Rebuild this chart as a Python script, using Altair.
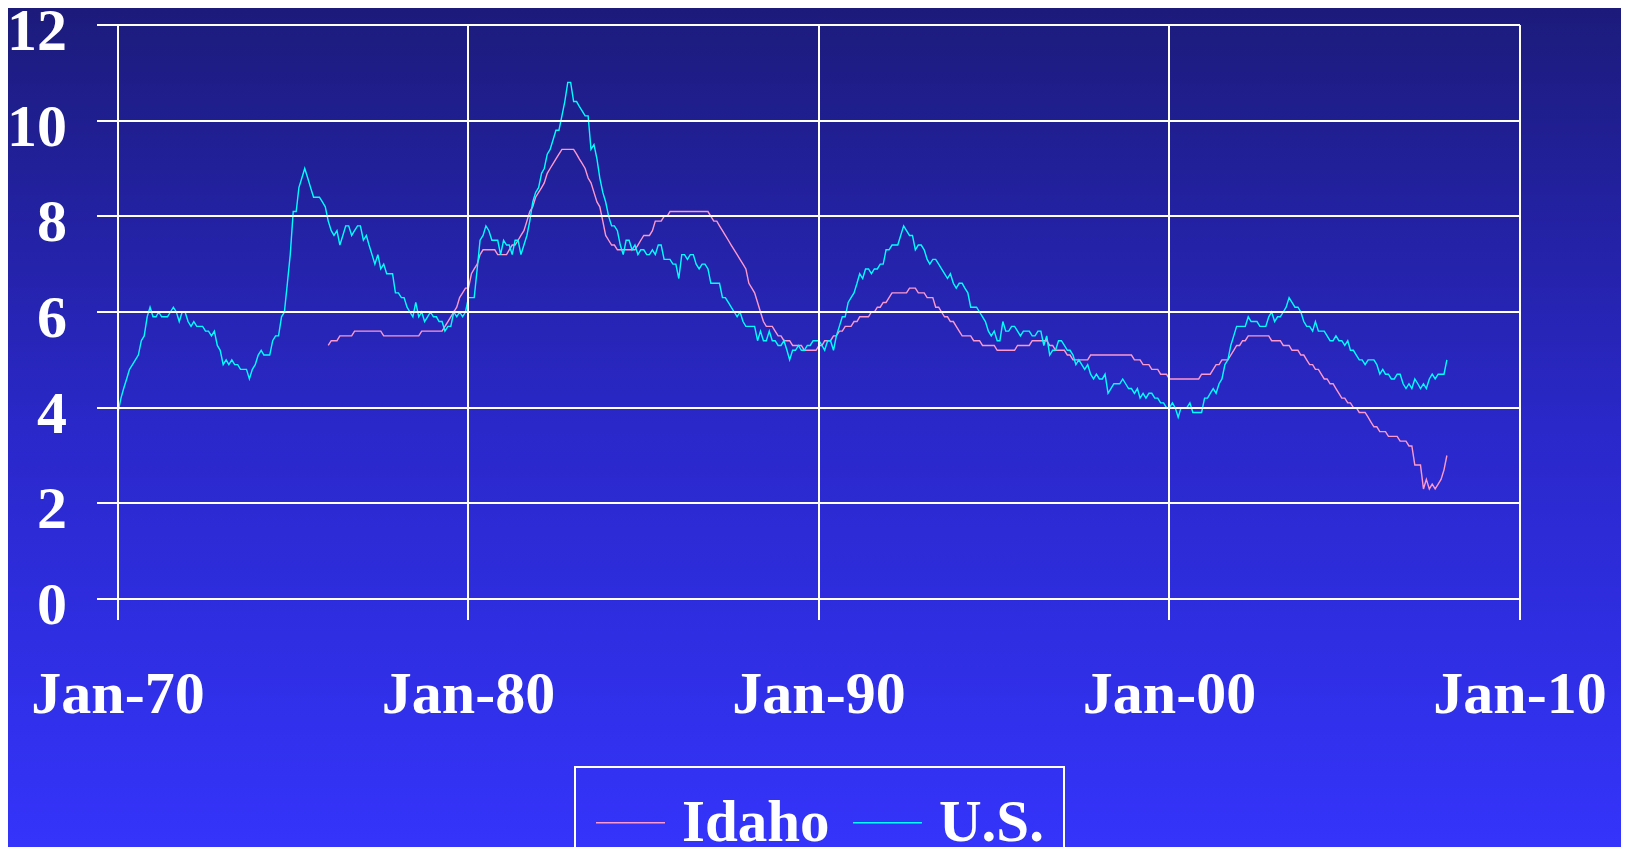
import altair as alt
import pandas as pd

# ---------------- data ----------------
us_start_year = 1970
us_rate = [
    3.9, 4.2, 4.4, 4.6, 4.8, 4.9, 5.0, 5.1, 5.4, 5.5, 5.9, 6.1,   # 1970
    5.9, 5.9, 6.0, 5.9, 5.9, 5.9, 6.0, 6.1, 6.0, 5.8, 6.0, 6.0,   # 1971
    5.8, 5.7, 5.8, 5.7, 5.7, 5.7, 5.6, 5.6, 5.5, 5.6, 5.3, 5.2,   # 1972
    4.9, 5.0, 4.9, 5.0, 4.9, 4.9, 4.8, 4.8, 4.8, 4.6, 4.8, 4.9,   # 1973
    5.1, 5.2, 5.1, 5.1, 5.1, 5.4, 5.5, 5.5, 5.9, 6.0, 6.6, 7.2,   # 1974
    8.1, 8.1, 8.6, 8.8, 9.0, 8.8, 8.6, 8.4, 8.4, 8.4, 8.3, 8.2,   # 1975
    7.9, 7.7, 7.6, 7.7, 7.4, 7.6, 7.8, 7.8, 7.6, 7.7, 7.8, 7.8,   # 1976
    7.5, 7.6, 7.4, 7.2, 7.0, 7.2, 6.9, 7.0, 6.8, 6.8, 6.8, 6.4,   # 1977
    6.4, 6.3, 6.3, 6.1, 6.0, 5.9, 6.2, 5.9, 6.0, 5.8, 5.9, 6.0,   # 1978
    5.9, 5.9, 5.8, 5.8, 5.6, 5.7, 5.7, 6.0, 5.9, 6.0, 5.9, 6.0,   # 1979
    6.3, 6.3, 6.3, 6.9, 7.5, 7.6, 7.8, 7.7, 7.5, 7.5, 7.5, 7.2,   # 1980
    7.5, 7.4, 7.4, 7.2, 7.5, 7.5, 7.2, 7.4, 7.6, 7.9, 8.3, 8.5,   # 1981
    8.6, 8.9, 9.0, 9.3, 9.4, 9.6, 9.8, 9.8, 10.1, 10.4, 10.8, 10.8,  # 1982
    10.4, 10.4, 10.3, 10.2, 10.1, 10.1, 9.4, 9.5, 9.2, 8.8, 8.5, 8.3,  # 1983
    8.0, 7.8, 7.8, 7.7, 7.4, 7.2, 7.5, 7.5, 7.3, 7.4, 7.2, 7.3,   # 1984
    7.3, 7.2, 7.2, 7.3, 7.2, 7.4, 7.4, 7.1, 7.1, 7.1, 7.0, 7.0,   # 1985
    6.7, 7.2, 7.2, 7.1, 7.2, 7.2, 7.0, 6.9, 7.0, 7.0, 6.9, 6.6,   # 1986
    6.6, 6.6, 6.6, 6.3, 6.3, 6.2, 6.1, 6.0, 5.9, 6.0, 5.8, 5.7,   # 1987
    5.7, 5.7, 5.7, 5.4, 5.6, 5.4, 5.4, 5.6, 5.4, 5.4, 5.3, 5.3,   # 1988
    5.4, 5.2, 5.0, 5.2, 5.2, 5.3, 5.2, 5.2, 5.3, 5.3, 5.4, 5.4,   # 1989
    5.4, 5.3, 5.2, 5.4, 5.4, 5.2, 5.5, 5.7, 5.9, 5.9, 6.2, 6.3,   # 1990
    6.4, 6.6, 6.8, 6.7, 6.9, 6.9, 6.8, 6.9, 6.9, 7.0, 7.0, 7.3,   # 1991
    7.3, 7.4, 7.4, 7.4, 7.6, 7.8, 7.7, 7.6, 7.6, 7.3, 7.4, 7.4,   # 1992
    7.3, 7.1, 7.0, 7.1, 7.1, 7.0, 6.9, 6.8, 6.7, 6.8, 6.6, 6.5,   # 1993
    6.6, 6.6, 6.5, 6.4, 6.1, 6.1, 6.1, 6.0, 5.9, 5.8, 5.6, 5.5,   # 1994
    5.6, 5.4, 5.4, 5.8, 5.6, 5.6, 5.7, 5.7, 5.6, 5.5, 5.6, 5.6,   # 1995
    5.6, 5.5, 5.5, 5.6, 5.6, 5.3, 5.5, 5.1, 5.2, 5.2, 5.4, 5.4,   # 1996
    5.3, 5.2, 5.2, 5.1, 4.9, 5.0, 4.9, 4.8, 4.9, 4.7, 4.6, 4.7,   # 1997
    4.6, 4.6, 4.7, 4.3, 4.4, 4.5, 4.5, 4.5, 4.6, 4.5, 4.4, 4.4,   # 1998
    4.3, 4.4, 4.2, 4.3, 4.2, 4.3, 4.3, 4.2, 4.2, 4.1, 4.1, 4.0,   # 1999
    4.0, 4.1, 4.0, 3.8, 4.0, 4.0, 4.0, 4.1, 3.9, 3.9, 3.9, 3.9,   # 2000
    4.2, 4.2, 4.3, 4.4, 4.3, 4.5, 4.6, 4.9, 5.0, 5.3, 5.5, 5.7,   # 2001
    5.7, 5.7, 5.7, 5.9, 5.8, 5.8, 5.8, 5.7, 5.7, 5.7, 5.9, 6.0,   # 2002
    5.8, 5.9, 5.9, 6.0, 6.1, 6.3, 6.2, 6.1, 6.1, 6.0, 5.8, 5.7,   # 2003
    5.7, 5.6, 5.8, 5.6, 5.6, 5.6, 5.5, 5.4, 5.4, 5.5, 5.4, 5.4,   # 2004
    5.3, 5.4, 5.2, 5.2, 5.1, 5.0, 5.0, 4.9, 5.0, 5.0, 5.0, 4.9,   # 2005
    4.7, 4.8, 4.7, 4.7, 4.6, 4.6, 4.7, 4.7, 4.5, 4.4, 4.5, 4.4,   # 2006
    4.6, 4.5, 4.4, 4.5, 4.4, 4.6, 4.7, 4.6, 4.7, 4.7, 4.7, 5.0,   # 2007
]

idaho_start_year = 1976
idaho_rate = [
    5.3, 5.4, 5.4, 5.4, 5.5, 5.5, 5.5, 5.5, 5.5, 5.6, 5.6, 5.6,   # 1976
    5.6, 5.6, 5.6, 5.6, 5.6, 5.6, 5.6, 5.5, 5.5, 5.5, 5.5, 5.5,   # 1977
    5.5, 5.5, 5.5, 5.5, 5.5, 5.5, 5.5, 5.5, 5.6, 5.6, 5.6, 5.6,   # 1978
    5.6, 5.6, 5.6, 5.6, 5.7, 5.8, 5.9, 6.0, 6.1, 6.3, 6.4, 6.5,   # 1979
    6.5, 6.8, 6.9, 7.0, 7.2, 7.3, 7.3, 7.3, 7.3, 7.3, 7.2, 7.2,   # 1980
    7.2, 7.2, 7.3, 7.4, 7.4, 7.5, 7.6, 7.7, 7.9, 8.1, 8.2, 8.4,   # 1981
    8.5, 8.6, 8.7, 8.9, 9.0, 9.1, 9.2, 9.3, 9.4, 9.4, 9.4, 9.4,   # 1982
    9.4, 9.3, 9.2, 9.1, 9.0, 8.8, 8.7, 8.5, 8.3, 8.2, 7.9, 7.6,   # 1983
    7.5, 7.4, 7.4, 7.3, 7.3, 7.3, 7.3, 7.3, 7.3, 7.3, 7.4, 7.5,   # 1984
    7.6, 7.6, 7.6, 7.7, 7.9, 7.9, 7.9, 8.0, 8.0, 8.1, 8.1, 8.1,   # 1985
    8.1, 8.1, 8.1, 8.1, 8.1, 8.1, 8.1, 8.1, 8.1, 8.1, 8.1, 8.0,   # 1986
    7.9, 7.9, 7.8, 7.7, 7.6, 7.5, 7.4, 7.3, 7.2, 7.1, 7.0, 6.9,   # 1987
    6.6, 6.5, 6.4, 6.2, 6.0, 5.8, 5.7, 5.7, 5.7, 5.6, 5.5, 5.5,   # 1988
    5.4, 5.4, 5.4, 5.3, 5.3, 5.3, 5.3, 5.2, 5.2, 5.2, 5.2, 5.2,   # 1989
    5.3, 5.3, 5.4, 5.4, 5.4, 5.5, 5.5, 5.6, 5.6, 5.7, 5.7, 5.7,   # 1990
    5.8, 5.8, 5.9, 5.9, 5.9, 5.9, 6.0, 6.0, 6.1, 6.1, 6.2, 6.2,   # 1991
    6.3, 6.4, 6.4, 6.4, 6.4, 6.4, 6.4, 6.5, 6.5, 6.5, 6.4, 6.4,   # 1992
    6.4, 6.3, 6.3, 6.3, 6.1, 6.1, 6.0, 5.9, 5.9, 5.8, 5.8, 5.7,   # 1993
    5.6, 5.5, 5.5, 5.5, 5.5, 5.4, 5.4, 5.4, 5.3, 5.3, 5.3, 5.3,   # 1994
    5.3, 5.2, 5.2, 5.2, 5.2, 5.2, 5.2, 5.2, 5.3, 5.3, 5.3, 5.3,   # 1995
    5.3, 5.4, 5.4, 5.4, 5.4, 5.4, 5.4, 5.3, 5.3, 5.2, 5.2, 5.2,   # 1996
    5.2, 5.1, 5.1, 5.0, 5.0, 5.0, 5.0, 5.0, 5.0, 5.1, 5.1, 5.1,   # 1997
    5.1, 5.1, 5.1, 5.1, 5.1, 5.1, 5.1, 5.1, 5.1, 5.1, 5.1, 5.1,   # 1998
    5.0, 5.0, 5.0, 4.9, 4.9, 4.9, 4.8, 4.8, 4.8, 4.7, 4.7, 4.7,   # 1999
    4.6, 4.6, 4.6, 4.6, 4.6, 4.6, 4.6, 4.6, 4.6, 4.6, 4.6, 4.7,   # 2000
    4.7, 4.7, 4.7, 4.8, 4.9, 4.9, 5.0, 5.0, 5.0, 5.1, 5.2, 5.3,   # 2001
    5.3, 5.4, 5.4, 5.5, 5.5, 5.5, 5.5, 5.5, 5.5, 5.5, 5.5, 5.4,   # 2002
    5.4, 5.4, 5.4, 5.3, 5.3, 5.3, 5.2, 5.2, 5.2, 5.1, 5.1, 5.0,   # 2003
    4.9, 4.9, 4.8, 4.8, 4.7, 4.6, 4.6, 4.5, 4.5, 4.4, 4.3, 4.2,   # 2004
    4.2, 4.1, 4.1, 4.0, 4.0, 3.9, 3.9, 3.9, 3.8, 3.7, 3.6, 3.6,   # 2005
    3.5, 3.5, 3.5, 3.4, 3.4, 3.4, 3.4, 3.3, 3.3, 3.3, 3.2, 3.2,   # 2006
    2.8, 2.8, 2.8, 2.3, 2.5, 2.3, 2.4, 2.3, 2.4, 2.5, 2.7, 3.0,   # 2007
]

series_names = ["Idaho", "U.S."]
series_colors = ["#ff99cc", "#00ffff"]
x_tick_years = [1970, 1980, 1990, 2000, 2010]
y_tick_values = [0, 2, 4, 6, 8, 10, 12]


def monthly(start_year, values, name):
    rows = []
    for i, v in enumerate(values):
        y = start_year + i // 12
        m = i % 12 + 1
        rows.append({"date": f"{y}-{m:02d}-01T00:00:00", "rate": v, "series": name})
    return rows


df = pd.DataFrame(monthly(idaho_start_year, idaho_rate, "Idaho")
                  + monthly(us_start_year, us_rate, "U.S."))

W, H = 1402, 574
PAD = {"left": 110, "top": 17, "right": 101, "bottom": 248}
FONT = "Liberation Serif"

background = alt.Chart(pd.DataFrame({"k": [0]})).mark_rect(
    color=alt.Gradient(
        gradient="linear",
        stops=[
            alt.GradientStop(color="#1c1b7b", offset=0),
            alt.GradientStop(color="#2a28c9", offset=0.5),
            alt.GradientStop(color="#3434fb", offset=1),
        ],
        x1=0, x2=0, y1=0, y2=1,
    )
).encode(
    x=alt.value(-PAD["left"]), x2=alt.value(W + PAD["right"]),
    y=alt.value(-PAD["top"]), y2=alt.value(H + PAD["bottom"]),
)

lines = alt.Chart(df).mark_line(strokeWidth=1.4).encode(
    x=alt.X(
        "date:T",
        scale=alt.Scale(domain=[alt.DateTime(year=1970, month=1, date=1),
                                alt.DateTime(year=2010, month=1, date=1)]),
        axis=alt.Axis(
            values=[alt.DateTime(year=y, month=1, date=1) for y in x_tick_years],
            format="%b-%y", title=None, domain=False, translate=0,
            grid=True, gridColor="white", gridWidth=2, gridOpacity=1,
            ticks=True, tickColor="white", tickWidth=2, tickSize=21,
            labelFont=FONT, labelFontSize=60, labelFontWeight="bold",
            labelColor="white", labelPadding=46, labelFlush=False,
            labelOverlap=False, zindex=1,
        ),
    ),
    y=alt.Y(
        "rate:Q",
        scale=alt.Scale(domain=[0, 12], nice=False),
        axis=alt.Axis(
            values=y_tick_values, title=None, domain=False, translate=0,
            grid=True, gridColor="white", gridWidth=2, gridOpacity=1,
            ticks=True, tickColor="white", tickWidth=2, tickSize=21,
            labelFont=FONT, labelFontSize=60, labelFontWeight="bold",
            labelColor="white", labelPadding=30, labelBaseline="middle",
            labelOffset=7, labelOverlap=False, zindex=1,
        ),
    ),
    color=alt.Color(
        "series:N",
        scale=alt.Scale(domain=series_names, range=series_colors),
        legend=alt.Legend(
            title=None, orient="none", legendX=457, legendY=742,
            direction="horizontal", strokeColor="white", padding=20,
            symbolType="stroke", symbolSize=4761, symbolStrokeWidth=1.5,
            labelFont=FONT, labelFontSize=59, labelFontWeight="bold",
            labelColor="white", labelOffset=16, columnPadding=20,
            labelLimit=500, zindex=1,
        ),
    ),
)

chart = alt.layer(background, lines).properties(
    width=W, height=H, autosize="none", padding=PAD, background="#2627b5",
).configure_view(stroke=None).configure_legend(strokeWidth=2)

chart.save("out.html", embed_options={"renderer": "svg", "actions": False})
